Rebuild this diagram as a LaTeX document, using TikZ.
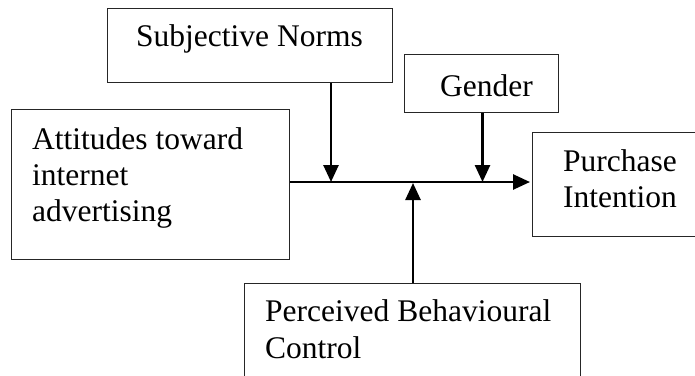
\documentclass[tikz,border=0pt]{standalone}
\usepackage{fontspec}
\setmainfont{Liberation Serif}
\usetikzlibrary{arrows.meta,calc}
\begin{document}
\begin{tikzpicture}[x=1pt,y=-1pt,
  box/.style={draw=black!85, line width=1.1pt, inner sep=0pt, anchor=north west},
  lbl/.style={anchor=base west, inner sep=0pt, font=\fontsize{31.5}{36.5}\selectfont},
  flow/.style={line width=2.6pt, -{Triangle[length=17pt,width=15pt]}}]
\clip (0,0) rectangle (695,375);
\fill[white] (0,0) rectangle (695,375);
% boxes
\node[box, minimum width=285pt, minimum height=74pt] (sn) at (107,8) {};
\node[box, minimum width=154pt, minimum height=58pt] (gen) at (404,54) {};
\node[box, minimum width=278pt, minimum height=150pt] (att) at (11,109) {};
\node[box, minimum width=200pt, minimum height=104pt] (pi) at (532,132) {};
\node[box, minimum width=336pt, minimum height=120pt] (pbc) at (244,283) {};
% texts
\node[lbl] (snt) at (136,46) {Subjective Norms};
\node[lbl] (gent) at (440,96) {Gender};
\node[lbl] (att1) at (32,149) {Attitudes toward};
\node[lbl] (att2) at (32,185) {internet};
\node[lbl] (att3) at (32,221.5) {advertising};
\node[lbl] (pi1) at (563,171.5) {Purchase};
\node[lbl] (pi2) at (563,207.5) {Intention};
\node[lbl] (pbc1) at (265,321.5) {Perceived Behavioural};
\node[lbl] (pbc2) at (265,358) {Control};
% connectors
\coordinate (jsn) at (331,182);
\coordinate (jgen) at (482.5,182);
\coordinate (jpbc) at (413,183);
\draw[flow] (att.east |- jsn) -- ([xshift=-2pt]pi.west |- jsn);
\draw[flow] (sn.south -| jsn) -- (jsn);
\draw[flow] (gen.south -| jgen) -- (jgen);
\draw[flow] (pbc.north -| jpbc) -- (jpbc);
\end{tikzpicture}
\end{document}
